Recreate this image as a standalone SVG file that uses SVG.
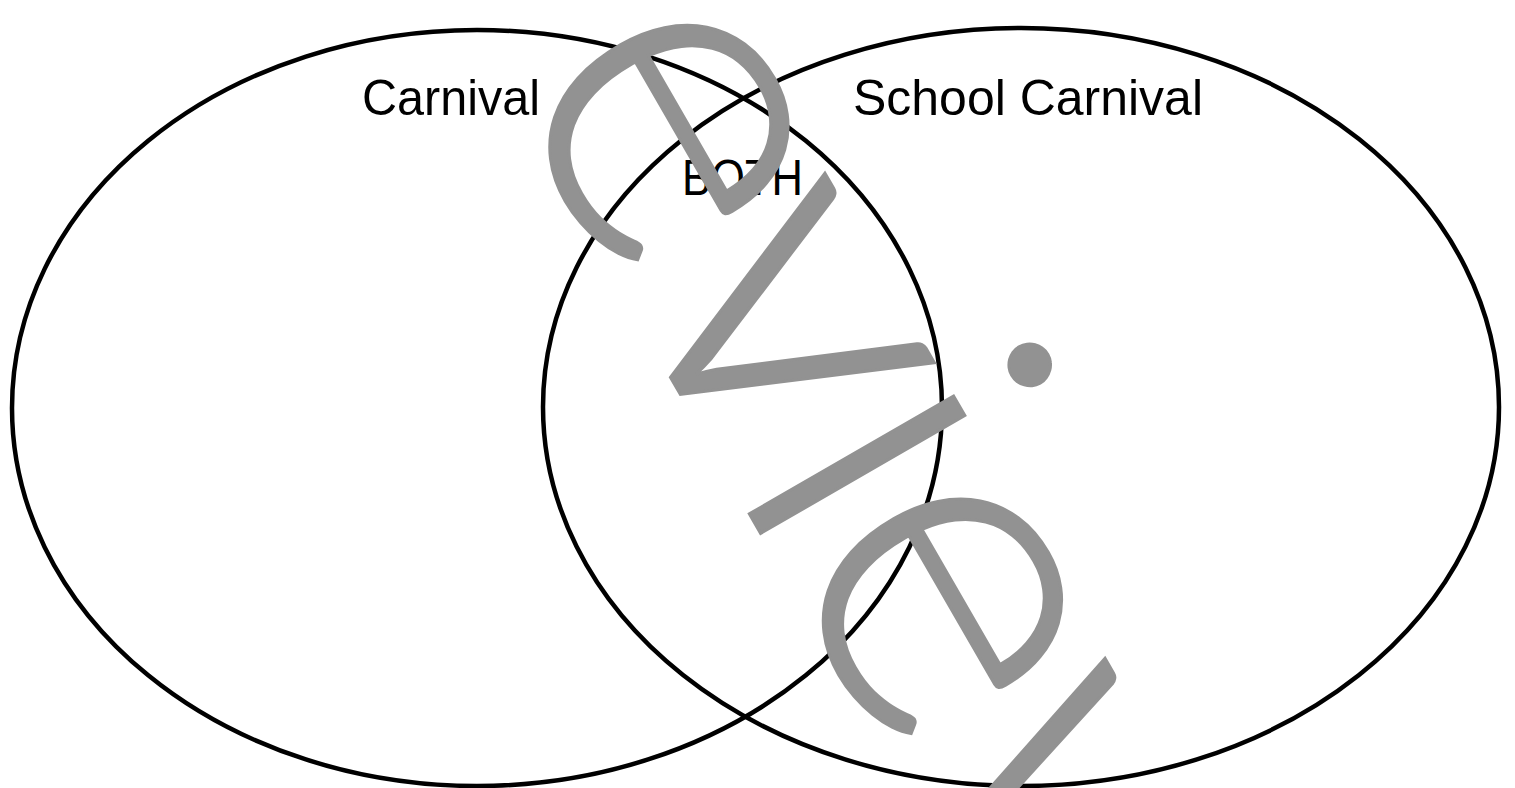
<svg xmlns="http://www.w3.org/2000/svg" width="1515" height="788" viewBox="0 0 1515 788">
<style>
.set{fill:none;stroke:#000;stroke-width:4.5}
.lbl{font-family:"Liberation Sans","DejaVu Sans",sans-serif;font-size:50px;fill:#000}
.wm{font-family:Lato,"Open Sans","DejaVu Sans",sans-serif;font-weight:300;font-size:474px;fill:#929292;stroke:#929292;stroke-width:3;text-anchor:middle}
</style>
<rect width="1515" height="788" fill="#fff"/>
<g id="connectors"></g>
<g id="set-carnival">
<ellipse class="set" cx="477" cy="408" rx="465" ry="378"/>
<text class="lbl" x="362" y="115" textLength="178" lengthAdjust="spacingAndGlyphs">Carnival</text>
</g>
<g id="set-school">
<ellipse class="set" cx="1021" cy="407" rx="478" ry="379"/>
<text class="lbl" x="853" y="115" textLength="350" lengthAdjust="spacingAndGlyphs">School Carnival</text>
</g>
<g id="both">
<text class="lbl" x="682" y="195" textLength="121" lengthAdjust="spacingAndGlyphs">BOTH</text>
</g>
<g id="watermark" transform="rotate(60)">
<text class="wm" x="448" y="-392">e</text>
<text class="wm" x="672" y="-392">v</text>
<text class="wm" x="831" y="-392">i</text>
<text class="wm" x="995" y="-392">e</text>
<text class="wm" x="1292" y="-392">w</text>
</g>
</svg>
